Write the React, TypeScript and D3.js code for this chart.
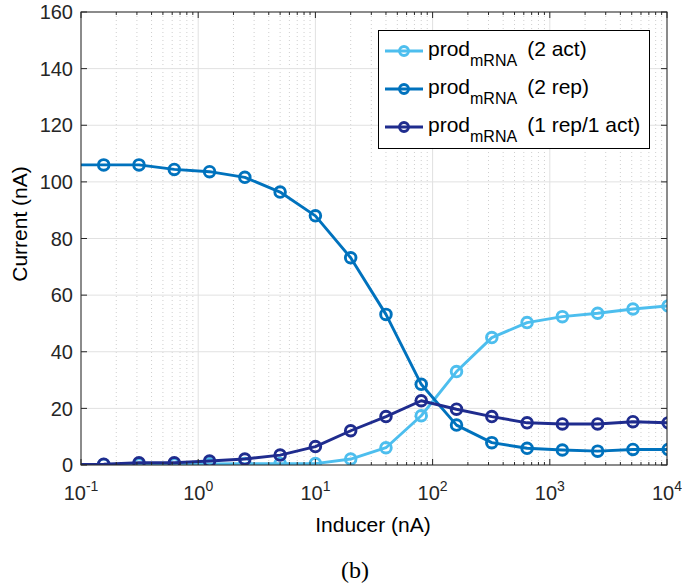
import React from "react";
import * as d3 from "d3";

const xValues = [0.078125, 0.15625, 0.3125, 0.625, 1.25, 2.5, 5, 10, 20, 40, 80, 160, 320, 640, 1280, 2560, 5120, 10240];
const act2 = [0.2, 0.2, 0.3, 0.3, 0.4, 0.5, 0.5, 0.5, 2.1, 6.1, 17.4, 33.0, 45.0, 50.3, 52.4, 53.6, 55.1, 56.2];
const rep2 = [106.0, 106.0, 106.0, 104.4, 103.6, 101.6, 96.4, 88.0, 73.2, 53.2, 28.5, 14.1, 7.9, 5.9, 5.3, 4.9, 5.5, 5.5];
const rep1act1 = [0.2, 0.3, 0.8, 0.8, 1.4, 2.1, 3.5, 6.5, 12.1, 17.1, 22.7, 19.7, 17.1, 14.9, 14.5, 14.5, 15.3, 14.9];
const seriesNames = ["(2 act)", "(2 rep)", "(1 rep/1 act)"];
const seriesColors = ["#4DBEEE", "#0072BD", "#1F2C8E"];
const yTicks = [0, 20, 40, 60, 80, 100, 120, 140, 160];
const xTickExps = [-1, 0, 1, 2, 3, 4];

const W = 682, H = 588;
const L = 81, R = 667, T = 12, B = 465;
const FONT = "'Liberation Sans', Arial, Helvetica, sans-serif";

export default function App() {
  const x = d3.scaleLog().domain([0.1, 10000]).range([L, R]);
  const y = d3.scaleLinear().domain([0, 160]).range([B, T]);
  const series = [act2, rep2, rep1act1];
  const line = d3.line<number>().x((_, i) => x(xValues[i])).y((d) => y(d));

  const minor: number[] = [];
  for (let e = -1; e < 4; e++) for (let m = 2; m <= 9; m++) minor.push(m * Math.pow(10, e));
  const axisColor = "#262626";
  const SW = 2.9;

  return (
    <svg width={W} height={H} style={{ position: "absolute", left: 0, top: 0, background: "#fff" }}>
      <defs>
        <clipPath id="plotclip">
          <rect x={L} y={T} width={R - L} height={B - T} />
        </clipPath>
      </defs>
      <rect x={0} y={0} width={W} height={H} fill="#fff" />
      {minor.map((v, i) => (
        <line key={"mg" + i} x1={x(v)} x2={x(v)} y1={T} y2={B} stroke="#cfcfcf" strokeWidth={1} strokeDasharray="1,3" />
      ))}
      {xTickExps.map((e) => (
        <line key={"gx" + e} x1={x(Math.pow(10, e))} x2={x(Math.pow(10, e))} y1={T} y2={B} stroke="#e1e1e1" strokeWidth={1} />
      ))}
      {yTicks.map((t) => (
        <line key={"gy" + t} x1={L} x2={R} y1={y(t)} y2={y(t)} stroke="#e1e1e1" strokeWidth={1} />
      ))}
      <g clipPath="url(#plotclip)">
        {series.map((s, si) => (
          <g key={"s" + si}>
            <path d={line(s) || ""} fill="none" stroke={seriesColors[si]} strokeWidth={SW} strokeLinejoin="round" />
            {s.map((v, i) => (
              <circle key={i} cx={x(xValues[i])} cy={y(v)} r={5.3} fill="none" stroke={seriesColors[si]} strokeWidth={SW} />
            ))}
          </g>
        ))}
      </g>
      <rect x={L} y={T} width={R - L} height={B - T} fill="none" stroke={axisColor} strokeWidth={1} />
      {yTicks.map((t) => (
        <g key={"yt" + t}>
          <line x1={L} x2={L + 6} y1={y(t)} y2={y(t)} stroke={axisColor} />
          <line x1={R} x2={R - 6} y1={y(t)} y2={y(t)} stroke={axisColor} />
          <text x={L - 8} y={y(t)} dy="0.36em" textAnchor="end" fontFamily={FONT} fontSize={20} fill={axisColor}>{t}</text>
        </g>
      ))}
      {minor.map((v, i) => (
        <g key={"mt" + i}>
          <line x1={x(v)} x2={x(v)} y1={B} y2={B - 3} stroke={axisColor} />
          <line x1={x(v)} x2={x(v)} y1={T} y2={T + 3} stroke={axisColor} />
        </g>
      ))}
      {xTickExps.map((e) => {
        const px = x(Math.pow(10, e));
        return (
          <g key={"xt" + e}>
            <line x1={px} x2={px} y1={B} y2={B - 6} stroke={axisColor} />
            <line x1={px} x2={px} y1={T} y2={T + 6} stroke={axisColor} />
            <text x={px} y={500} textAnchor="middle" fontFamily={FONT} fontSize={20} fill={axisColor}>
              <tspan>10</tspan>
              <tspan dy={-9} fontSize={14}>{e}</tspan>
            </text>
          </g>
        );
      })}
      <text x={373} y={532} textAnchor="middle" fontFamily={FONT} fontSize={21} fill="#000">Inducer (nA)</text>
      <text transform={`translate(27,${224}) rotate(-90)`} textAnchor="middle" fontFamily={FONT} fontSize={21} fill="#000">Current (nA)</text>
      <text x={355} y={578} textAnchor="middle" fontFamily="'Liberation Serif', 'DejaVu Serif', serif" fontSize={24} fill="#000">(b)</text>
      <rect x={378.5} y={30.5} width={271} height={118} fill="#fff" stroke="#000" strokeWidth={1} />
      {seriesNames.map((n, i) => {
        const ly = 51 + i * 38;
        return (
          <g key={"lg" + i}>
            <line x1={385} x2={423} y1={ly} y2={ly} stroke={seriesColors[i]} strokeWidth={SW} />
            <circle cx={404} cy={ly} r={4.5} fill="none" stroke={seriesColors[i]} strokeWidth={SW} />
            <text x={428} y={ly + 5} fontFamily={FONT} fontSize={21} fill="#000">
              <tspan>prod</tspan>
              <tspan dy={10} fontSize={16}>mRNA</tspan>
              <tspan dy={-10} dx={10}>{n}</tspan>
            </text>
          </g>
        );
      })}
    </svg>
  );
}
